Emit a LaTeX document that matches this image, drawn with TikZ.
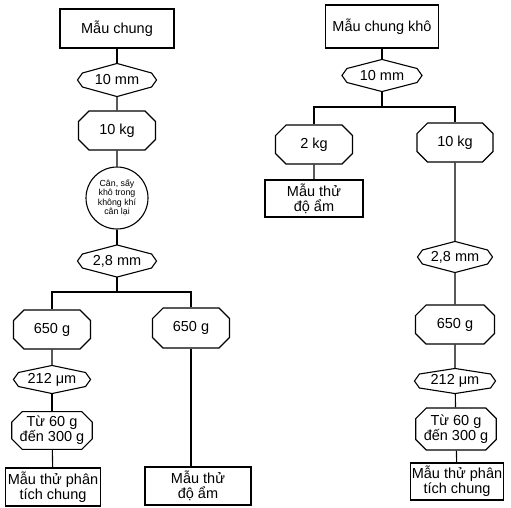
\documentclass[tikz,border=0pt]{standalone}
\usepackage{fontspec}
\setmainfont{Liberation Sans}
\usetikzlibrary{shapes.misc}

\begin{document}
\begin{tikzpicture}[x=1pt, y=-1pt, line width=1.1pt,
  txt/.style={font=\fontsize{14.5}{15}\selectfont, inner sep=1pt, align=center},
  sample/.style={txt, draw, rectangle, minimum height=38pt},
  mass/.style={txt, draw, chamfered rectangle, chamfered rectangle xsep=7pt, minimum width=77pt, minimum height=39pt},
  sieve/.style={txt, minimum width=78pt, minimum height=31pt},
  dry/.style={draw, circle, minimum size=62pt, inner sep=0pt, align=center, font=\fontsize{8.8}{9.5}\selectfont}
]
\useasboundingbox (0,0) rectangle (511,507);

\node[sample, minimum width=114pt, minimum height=39pt] (m1) at (117,28.5) {Mẫu chung};
\node[sieve, minimum height=32pt] (s1) at (117,80) {10 mm};
\node[mass] (k1) at (117,130.5) {10 kg};
\node[dry] (c1) at (117,198) {Cân, sấy\\khô trong\\không khí\\cân lại};
\node[sieve] (s2) at (117,261) {2,8 mm};
\coordinate (b1) at (117,292);
\node[mass] (g1) at (52,329.5) {650 g};
\node[mass, minimum height=40pt] (g2) at (191,328) {650 g};
\node[sieve, minimum width=76pt, minimum height=27pt] (s3) at (52,379.5) {212 μm};
\node[mass, minimum height=35pt] (t1) at (52,430.5) {Từ 60 g\\đến 300 g};
\node[sample, minimum width=95pt] (p1) at (53,487) {Mẫu thử phân\\tích chung};
\node[sample, minimum width=106pt] (a1) at (198,486) {Mẫu thử\\độ ẩm};

\node[sample, minimum width=113pt, minimum height=43pt] (m2) at (382,26.5) {Mẫu chung khô};
\node[sieve, minimum width=79pt] (s4) at (382,75.5) {10 mm};
\coordinate (b2) at (382,107);
\node[mass] (k2) at (314,144.5) {2 kg};
\node[mass, minimum width=76pt] (k3) at (455,142.5) {10 kg};
\node[sample, minimum width=98pt, minimum height=37pt] (a2) at (314,198.5) {Mẫu thử\\độ ẩm};
\node[sieve, minimum width=74pt, minimum height=30pt] (s5) at (455,257) {2,8 mm};
\node[mass, minimum width=79pt] (g3) at (455,324.5) {650 g};
\node[sieve, minimum width=80pt, minimum height=24pt] (s6) at (455,381) {212 μm};
\node[mass, minimum width=78pt, minimum height=42pt] (t2) at (456,429) {Từ 60 g\\đến 300 g};
\node[sample, minimum width=90pt, minimum height=37pt] (p2) at (457,481.5) {Mẫu thử phân\\tích chung};

\foreach \n in {s1,s2,s3,s4,s5,s6}
  \draw (\n.north) -- ([shift={(5pt,7pt)}]\n.west) -- (\n.west) -- ([shift={(5pt,-7pt)}]\n.west)
    -- (\n.south) -- ([shift={(-5pt,-7pt)}]\n.east) -- (\n.east) -- ([shift={(-5pt,7pt)}]\n.east) -- cycle;

\draw (m1) -- (s1);
\draw (s1) -- (k1);
\draw (k1) -- (c1);
\draw (c1) -- (s2);
\draw (s2) -- (b1);
\draw (g1) |- (b1) -| (g2);
\draw (g1) -- (s3);
\draw (s3) -- (t1);
\draw (t1) -- (p1);
\draw (g2.south) -- (g2.south |- a1.north);

\draw (m2) -- (s4);
\draw (s4) -- (b2);
\draw (k2) |- (b2) -| (k3);
\draw (k2) -- (a2);
\draw (k3) -- (s5);
\draw (s5) -- (g3);
\draw (g3) -- (s6);
\draw (s6) -- (t2);
\draw (t2) -- (p2);
\end{tikzpicture}
\end{document}
